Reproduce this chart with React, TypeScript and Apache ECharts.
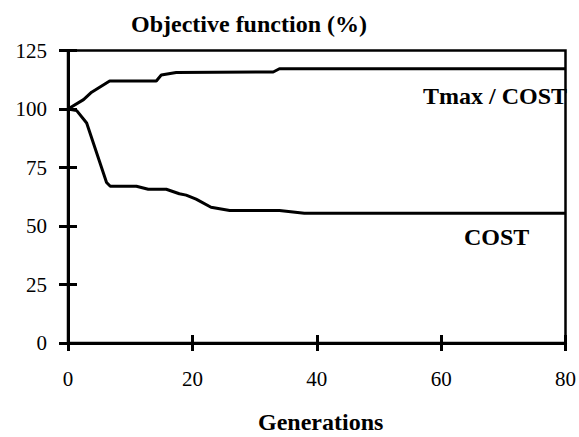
import React, { useEffect, useRef } from "react";
import * as echarts from "echarts";

const xTicks = [0, 20, 40, 60, 80];
const yTicks = [0, 25, 50, 75, 100, 125];

const costGen = [0, 1.4, 3, 6.2, 6.8, 11, 12.9, 15.8, 17.9, 19, 20.6, 23, 26, 34, 38, 80];
const costVal = [100, 99.3, 94, 68.6, 67, 67, 65.7, 65.7, 63.8, 63.2, 61.5, 58, 56.6, 56.6, 55.4, 55.4];

const tmaxGen = [0, 2.5, 3.8, 6.7, 14.2, 15, 17.4, 33, 34, 80];
const tmaxVal = [100, 104, 107.2, 112, 112, 114.5, 115.6, 115.8, 117.2, 117.2];

const FONT = "Liberation Serif";
const TICK = "#000";

export default function App() {
  const ref = useRef<HTMLDivElement>(null);
  useEffect(() => {
    if (!ref.current) return;
    const chart = echarts.init(ref.current, null, { renderer: "svg" });
    const boldText = (text: string, pos: Record<string, number>) => ({
      type: "text",
      ...pos,
      style: { text, fontFamily: FONT, fontSize: 24, fontWeight: "bold", fill: "#000" },
    });
    const xBase = {
      type: "value",
      min: xTicks[0],
      max: xTicks[xTicks.length - 1],
      interval: 20,
      splitLine: { show: false },
    };
    const yBase = {
      type: "value",
      min: yTicks[0],
      max: yTicks[yTicks.length - 1],
      interval: 25,
      splitLine: { show: false },
    };
    chart.setOption({
      animation: false,
      backgroundColor: "#fff",
      grid: {
        left: 68,
        right: 12,
        top: 50.5,
        bottom: 94,
        show: true,
        borderColor: "#000",
        borderWidth: 2.5,
      },
      xAxis: [
        {
          ...xBase,
          axisLine: { show: true, lineStyle: { color: "#000", width: 3 } },
          axisTick: { show: true, length: 8, lineStyle: { color: TICK, width: 3 } },
          axisLabel: { color: "#000", fontFamily: FONT, fontSize: 21, margin: 25 },
        },
        {
          ...xBase,
          position: "bottom",
          axisLine: { show: false, onZero: false },
          axisTick: { show: true, inside: true, length: 8, lineStyle: { color: TICK, width: 3 } },
          axisLabel: { show: false },
        },
      ],
      yAxis: [
        {
          ...yBase,
          axisLine: { show: true, lineStyle: { color: "#000", width: 3 } },
          axisTick: { show: true, length: 9, lineStyle: { color: TICK, width: 3 } },
          axisLabel: { color: "#000", fontFamily: FONT, fontSize: 21, margin: 21 },
        },
        {
          ...yBase,
          position: "left",
          axisLine: { show: false, onZero: false },
          axisTick: { show: true, inside: true, length: 9, lineStyle: { color: TICK, width: 3 } },
          axisLabel: { show: false },
        },
      ],
      graphic: [
        boldText("Objective function (%)", { left: 131, top: 12 }),
        boldText("Tmax / COST", { right: 12, top: 84 }),
        boldText("COST", { left: 464, top: 225 }),
        boldText("Generations", { left: 258, top: 410 }),
      ],
      series: [
        {
          name: "Tmax / COST",
          type: "line",
          data: tmaxGen.map((g, i) => [g, tmaxVal[i]]),
          showSymbol: false,
          lineStyle: { color: "#000", width: 3 },
        },
        {
          name: "COST",
          type: "line",
          data: costGen.map((g, i) => [g, costVal[i]]),
          showSymbol: false,
          lineStyle: { color: "#000", width: 3 },
        },
      ],
    });
    return () => chart.dispose();
  }, []);
  return <div ref={ref} style={{ width: 579, height: 437, position: "absolute", left: 0, top: 0 }} />;
}
